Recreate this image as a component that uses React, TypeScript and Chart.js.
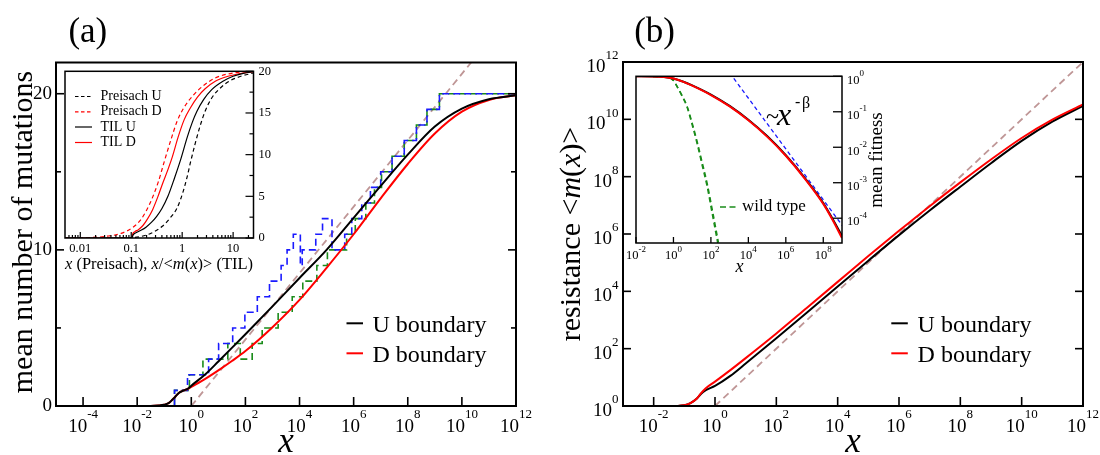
import React, { useEffect, useRef } from 'react';
import { Chart, registerables } from 'chart.js';

Chart.register(...registerables);

const W = 1100;
const H = 455;
const SERIF = '"Liberation Serif", "Times New Roman", Times, serif';

// ---------------- Panel (a): mean number of mutations (x as powers of ten) ----------------
const aCurveExp = [-2.6, -1.5, -1.2, -1.0, -0.84, -0.7, -0.6, -0.45, -0.3, -0.1, 0, 0.5, 1, 1.5, 2, 3, 4, 5, 6, 7, 8, 9, 10, 11, 12];
const aUBoundary = [0, 0, 0.03, 0.08, 0.18, 0.4, 0.58, 0.85, 0.98, 1.14, 1.3, 2.0, 2.85, 3.72, 4.6, 6.38, 8.2, 10.0, 12.05, 14.1, 16.1, 17.9, 19.05, 19.65, 19.9];
const aDBoundary = [0, 0, 0.03, 0.08, 0.18, 0.4, 0.58, 0.85, 0.98, 1.12, 1.22, 1.72, 2.28, 2.88, 3.52, 5.05, 6.8, 8.85, 11.0, 13.3, 15.5, 17.45, 18.85, 19.6, 19.9];

// single realisations (step curves)
const aUStepExp = [-1.4, -0.62, -0.14, 0.64, 1.01, 1.53, 1.98, 2.44, 2.89, 3.32, 3.54, 3.77, 4.03, 4.1, 4.6, 4.85, 5.2, 5.67, 5.93, 6.3, 6.62, 7.0, 7.42, 7.87, 8.32, 8.71, 9.17, 12];
const aUStep = [0, 1, 2, 3, 4, 5, 6, 7, 8, 9, 10, 11, 9, 10, 11, 12, 10, 11, 12, 13, 14, 15, 16, 17, 18, 19, 20, 20];
const aDStepExp = [-1.4, -0.62, -0.07, 0.43, 1.35, 1.81, 2.25, 2.62, 3.21, 3.73, 4.12, 4.64, 5.03, 5.74, 6.06, 6.45, 6.77, 7.03, 7.42, 7.87, 8.32, 8.71, 9.17, 12];
const aDStep = [0, 1, 2, 3, 4, 3, 4, 5, 6, 7, 8, 9, 10, 11, 12, 13, 14, 15, 16, 17, 18, 19, 20, 20];

// logarithmic guide
const aGuideExp = [0, 11];
const aGuide = [0, 23.4];

const aXTickExp = [-4, -2, 0, 2, 4, 6, 8, 10, 12];
const aYMajor = [0, 10, 20];
const aYMinor = [5, 15];

// Inset of panel (a): Preisach vs TIL
const insAPreisachUExp = [-2.3, -1.3, -1.0, -0.8, -0.6, -0.39, -0.25, -0.1, 0.02, 0.1, 0.16, 0.25, 0.35, 0.45, 0.58, 0.75, 0.95, 1.15, 1.4];
const insAPreisachU = [0, 0, 0.05, 0.2, 0.6, 1.4, 2.3, 3.6, 5.6, 7.4, 9.0, 11.2, 13.4, 15.2, 16.8, 18.0, 18.9, 19.4, 19.8];
const insAPreisachDExp = [-2.3, -1.8, -1.5, -1.2, -0.94, -0.8, -0.71, -0.6, -0.47, -0.35, -0.22, -0.1, 0.03, 0.2, 0.4, 0.65, 1.0, 1.4];
const insAPreisachD = [0, 0.05, 0.2, 0.55, 1.4, 2.3, 3.2, 4.6, 6.7, 9.2, 11.8, 14.0, 15.6, 17.0, 18.2, 19.2, 19.8, 20];
const insATilUExp = [-2.3, -0.99, -0.96, -0.9, -0.8, -0.71, -0.6, -0.5, -0.4, -0.28, -0.15, -0.03, 0.1, 0.2, 0.29, 0.42, 0.58, 0.8, 1.0, 1.2, 1.4];
const insATilU = [0, 0, 0.4, 0.65, 0.95, 1.3, 1.9, 2.6, 3.5, 5.0, 7.2, 9.4, 12.1, 13.9, 15.2, 16.6, 17.8, 18.8, 19.4, 19.75, 19.95];
const insATilDExp = [-2.3, -0.99, -0.97, -0.93, -0.86, -0.77, -0.68, -0.58, -0.48, -0.38, -0.28, -0.19, -0.08, 0.04, 0.16, 0.3, 0.45, 0.65, 0.9, 1.2, 1.4];
const insATilD = [0, 0, 0.5, 0.75, 1.0, 1.5, 2.3, 3.4, 4.9, 6.6, 8.2, 9.8, 12.1, 14.2, 15.6, 16.9, 17.9, 18.8, 19.4, 19.8, 19.95];

const insAXMajor = [0.01, 0.1, 1, 10];
const insAXMinor = [0.006, 0.007, 0.008, 0.009, 0.02, 0.03, 0.04, 0.05, 0.06, 0.07, 0.08, 0.09, 0.2, 0.3, 0.4, 0.5, 0.6, 0.7, 0.8, 0.9, 2, 3, 4, 5, 6, 7, 8, 9, 20];
const insAXLabels = ['0.01', '0.1', '1', '10'];
const insAYMajor = [0, 5, 10, 15, 20];
const insAYMinor = [2.5, 7.5, 12.5, 17.5];

// ---------------- Panel (b): resistance <m(x)> (both axes as powers of ten) ----------------
const bCurveExp = [-2.58, -1.5, -1.0, -0.8, -0.6, -0.46, -0.3, 0, 0.5, 1, 2, 3, 4, 5, 6, 7, 8, 9, 10, 11, 12];
const bUBoundaryExp = [0, 0, 0.03, 0.1, 0.25, 0.42, 0.55, 0.7, 1.05, 1.48, 2.36, 3.26, 4.17, 5.07, 5.96, 6.82, 7.65, 8.47, 9.25, 9.92, 10.47];
const bDBoundaryExp = [0, 0, 0.03, 0.1, 0.25, 0.44, 0.62, 0.85, 1.25, 1.67, 2.53, 3.43, 4.33, 5.23, 6.11, 6.97, 7.8, 8.6, 9.35, 9.99, 10.52];
const bGuideExp = [0, 12];

const bXTickExp = [-2, 0, 2, 4, 6, 8, 10, 12];
const bYTickExp = [0, 2, 4, 6, 8, 10, 12];

// Inset of panel (b): mean fitness
const bFitXExp = [-2, -1, -0.5, 0, 0.5, 1, 2, 3, 4, 5, 6, 7, 8, 8.5, 9];
const bFitUExp = [0, -0.004, -0.018, -0.06, -0.145, -0.255, -0.515, -0.835, -1.225, -1.685, -2.225, -2.855, -3.57, -4.02, -4.5];
const bFitDExp = [0, -0.004, -0.018, -0.063, -0.15, -0.265, -0.53, -0.85, -1.24, -1.7, -2.24, -2.875, -3.595, -4.05, -4.56];
const bPowerXExp = [3.0, 9.2];
const bPowerYExp = [0.1, -4.34];
const bWildXExp = [-2, -0.5, -0.2, 0, 0.2, 0.45, 0.72, 1.0, 1.26, 1.53, 1.8, 2.08, 2.4];
const bWildAExp = [0, -0.01, -0.04, -0.12, -0.3, -0.55, -0.86, -1.37, -1.89, -2.5, -3.11, -3.9, -4.8];
const bWildBExp = [0, -0.01, -0.04, -0.12, -0.29, -0.53, -0.83, -1.32, -1.83, -2.42, -3.02, -3.78, -4.68];

const insBXTickExp = [-2, 0, 2, 4, 6, 8];
const insBYTickExp = [0, -1, -2, -3, -4];

// ---------------- helpers ----------------
type Pt = { x: number; y: number };
const pts = (xe: number[], ys: number[]): Pt[] => xe.map((e, i) => ({ x: 10 ** e, y: ys[i] }));
const ptsLL = (xe: number[], ye: number[]): Pt[] => xe.map((e, i) => ({ x: 10 ** e, y: 10 ** ye[i] }));

function series(data: Pt[], color: string, width: number, dash: number[] = [], extra: Record<string, unknown> = {}) {
  return {
    data,
    showLine: true,
    borderColor: color,
    backgroundColor: color,
    borderWidth: width,
    borderDash: dash,
    pointRadius: 0,
    pointHoverRadius: 0,
    fill: false,
    tension: 0,
    ...extra,
  };
}
const smooth = { cubicInterpolationMode: 'monotone' };

const font = (size: number, italic = false) => `${italic ? 'italic ' : ''}${size}px ${SERIF}`;

function seg(ctx: CanvasRenderingContext2D, x1: number, y1: number, x2: number, y2: number) {
  ctx.beginPath();
  ctx.moveTo(x1, y1);
  ctx.lineTo(x2, y2);
  ctx.stroke();
}

function text(ctx: CanvasRenderingContext2D, t: string, x: number, y: number, size: number, align: CanvasTextAlign, baseline: CanvasTextBaseline = 'middle', italic = false) {
  ctx.font = font(size, italic);
  ctx.textAlign = align;
  ctx.textBaseline = baseline;
  ctx.fillText(t, x, y);
}

// "10" with a raised exponent
function pow(ctx: CanvasRenderingContext2D, x: number, y: number, exp: string, bs: number, es: number, align: 'center' | 'right' | 'left', bdy: number, edy: number) {
  ctx.font = font(bs);
  const wb = ctx.measureText('10').width;
  ctx.font = font(es);
  const we = ctx.measureText(exp).width;
  const total = wb + we;
  const x0 = align === 'center' ? x - total / 2 : align === 'right' ? x - total : x;
  ctx.textAlign = 'left';
  ctx.textBaseline = 'middle';
  ctx.font = font(bs);
  ctx.fillText('10', x0, y + bdy);
  ctx.font = font(es);
  ctx.fillText(exp, x0 + wb, y + edy);
}

type Seg = [string, boolean];
function rich(ctx: CanvasRenderingContext2D, segs: Seg[], size: number, x: number, y: number, rotate: boolean) {
  ctx.save();
  ctx.translate(x, y);
  if (rotate) ctx.rotate(-Math.PI / 2);
  ctx.textBaseline = 'alphabetic';
  ctx.textAlign = 'left';
  let total = 0;
  for (const [t, it] of segs) {
    ctx.font = font(size, it);
    total += ctx.measureText(t).width;
  }
  let cx = -total / 2;
  for (const [t, it] of segs) {
    ctx.font = font(size, it);
    ctx.fillText(t, cx, 0);
    cx += ctx.measureText(t).width;
  }
  ctx.restore();
}

type Area = { l: number; t: number; r: number; b: number };

function build(canvas: HTMLCanvasElement, area: Area, xOpt: Record<string, unknown>, yOpt: Record<string, unknown>, datasets: any[], draw: (c: Chart) => void) {
  return new Chart(canvas, {
    type: 'scatter',
    data: { datasets },
    options: {
      responsive: false,
      maintainAspectRatio: false,
      animation: false,
      devicePixelRatio: 1,
      events: [],
      layout: { padding: { left: area.l, top: area.t, right: W - area.r, bottom: H - area.b } },
      plugins: { legend: { display: false }, tooltip: { enabled: false }, title: { display: false } },
      scales: {
        x: { display: false, ...xOpt },
        y: { display: false, ...yOpt },
      },
    } as any,
    plugins: [{ id: 'decor', afterDraw: (c: Chart) => draw(c) }],
  });
}

const BLACK = '#000000';
const RED = '#ff0000';
const BLUE = '#1a1aff';
const GREEN = '#1a8c1a';
const GUIDE = '#bf9696';

// ---------------- decorations ----------------
function drawMainA(c: Chart) {
  const ctx = c.ctx;
  const a = c.chartArea;
  const xs = c.scales.x;
  const ys = c.scales.y;
  ctx.save();
  ctx.setLineDash([]);
  ctx.strokeStyle = BLACK;
  ctx.fillStyle = BLACK;
  ctx.lineWidth = 1.6;
  for (const e of aXTickExp) {
    const px = xs.getPixelForValue(10 ** e);
    seg(ctx, px, a.bottom, px, a.bottom - 9);
    pow(ctx, px, a.bottom, String(e), 19, 13, 'center', 21, 9);
  }
  for (const v of aYMajor) {
    const py = ys.getPixelForValue(v);
    seg(ctx, a.left, py, a.left + 8, py);
    seg(ctx, a.right, py, a.right - 8, py);
    text(ctx, String(v), a.left - 4, py, 19, 'right');
  }
  for (const v of aYMinor) {
    const py = ys.getPixelForValue(v);
    seg(ctx, a.left, py, a.left + 5, py);
    seg(ctx, a.right, py, a.right - 5, py);
  }
  ctx.lineWidth = 2;
  ctx.strokeRect(a.left, a.top, a.right - a.left, a.bottom - a.top);

  text(ctx, '(a)', 68.4, 42, 35, 'left', 'alphabetic');
  rich(ctx, [['mean number of mutations', false]], 30, 31.5, 232, true);
  rich(ctx, [['x', true]], 35, (a.left + a.right) / 2, 452, false);

  // legend
  ctx.lineWidth = 2;
  ctx.strokeStyle = BLACK;
  seg(ctx, 346.5, 323.3, 363, 323.3);
  ctx.strokeStyle = RED;
  seg(ctx, 346.5, 353.3, 363, 353.3);
  text(ctx, 'U boundary', 372.5, 331.5, 24, 'left', 'alphabetic');
  text(ctx, 'D boundary', 372.5, 362, 24, 'left', 'alphabetic');
  ctx.restore();
}

function drawInsetA(c: Chart) {
  const ctx = c.ctx;
  const a = c.chartArea;
  const xs = c.scales.x;
  const ys = c.scales.y;
  ctx.save();
  ctx.setLineDash([]);
  ctx.strokeStyle = BLACK;
  ctx.fillStyle = BLACK;
  ctx.lineWidth = 1.2;
  insAXMajor.forEach((v, i) => {
    const px = xs.getPixelForValue(v);
    seg(ctx, px, a.bottom, px, a.bottom - 6);
    text(ctx, insAXLabels[i], px, a.bottom + 10.5, 12.5, 'center');
  });
  for (const v of insAXMinor) {
    const px = xs.getPixelForValue(v);
    seg(ctx, px, a.bottom, px, a.bottom - 3);
  }
  for (const v of insAYMajor) {
    const py = ys.getPixelForValue(v);
    seg(ctx, a.right, py, a.right - 8, py);
    text(ctx, String(v), a.right + 5, py, 12.5, 'left');
  }
  for (const v of insAYMinor) {
    const py = ys.getPixelForValue(v);
    seg(ctx, a.right, py, a.right - 4, py);
  }
  ctx.lineWidth = 1.5;
  ctx.strokeRect(a.left, a.top, a.right - a.left, a.bottom - a.top);

  // legend
  const rows: [string, string, number[]][] = [
    ['Preisach U', BLACK, [3.5, 2.5]],
    ['Preisach D', RED, [3.5, 2.5]],
    ['TIL U', BLACK, []],
    ['TIL D', RED, []],
  ];
  const rowY = [96.5, 111.8, 127, 142.5];
  rows.forEach(([label, color, dash], i) => {
    ctx.strokeStyle = color;
    ctx.lineWidth = 1.2;
    ctx.setLineDash(dash);
    seg(ctx, 75, rowY[i], 92, rowY[i]);
    ctx.setLineDash([]);
    ctx.fillStyle = BLACK;
    text(ctx, label, 100.5, rowY[i], 14, 'left');
  });

  rich(
    ctx,
    [
      ['x', true],
      [' (Preisach), ', false],
      ['x', true],
      ['/<', false],
      ['m', true],
      ['(', false],
      ['x', true],
      [')> (TIL)', false],
    ],
    16.5,
    159,
    269,
    false,
  );
  ctx.restore();
}

function drawMainB(c: Chart) {
  const ctx = c.ctx;
  const a = c.chartArea;
  const xs = c.scales.x;
  const ys = c.scales.y;
  ctx.save();
  ctx.setLineDash([]);
  ctx.strokeStyle = BLACK;
  ctx.fillStyle = BLACK;
  ctx.lineWidth = 1.6;
  for (const e of bXTickExp) {
    const px = xs.getPixelForValue(10 ** e);
    seg(ctx, px, a.bottom, px, a.bottom - 9);
    pow(ctx, px, a.bottom, String(e), 19, 13, 'center', 21, 9);
  }
  for (const e of bYTickExp) {
    const py = ys.getPixelForValue(10 ** e);
    seg(ctx, a.left, py, a.left + 8, py);
    seg(ctx, a.right, py, a.right - 8, py);
    pow(ctx, a.left - 4.5, py, String(e), 19, 13, 'right', 5, -6);
  }
  ctx.lineWidth = 2;
  ctx.strokeRect(a.left, a.top, a.right - a.left, a.bottom - a.top);

  text(ctx, '(b)', 634.2, 42, 35, 'left', 'alphabetic');
  rich(
    ctx,
    [
      ['resistance <', false],
      ['m', true],
      ['(', false],
      ['x', true],
      [')>', false],
    ],
    30,
    580,
    234,
    true,
  );
  rich(ctx, [['x', true]], 35, (a.left + a.right) / 2, 452, false);

  ctx.lineWidth = 2;
  ctx.strokeStyle = BLACK;
  seg(ctx, 891.3, 323.3, 907.8, 323.3);
  ctx.strokeStyle = RED;
  seg(ctx, 891.3, 353.3, 907.8, 353.3);
  text(ctx, 'U boundary', 917.6, 331.5, 24, 'left', 'alphabetic');
  text(ctx, 'D boundary', 917.6, 362, 24, 'left', 'alphabetic');
  ctx.restore();
}

function drawInsetB(c: Chart) {
  const ctx = c.ctx;
  const a = c.chartArea;
  const xs = c.scales.x;
  const ys = c.scales.y;
  ctx.save();
  ctx.setLineDash([]);
  ctx.strokeStyle = BLACK;
  ctx.fillStyle = BLACK;
  ctx.lineWidth = 1.3;
  for (const e of insBXTickExp) {
    const px = xs.getPixelForValue(10 ** e);
    seg(ctx, px, a.bottom, px, a.bottom - 6);
    pow(ctx, px, a.bottom, String(e), 12.5, 9, 'center', 13, 7);
  }
  for (const e of insBYTickExp) {
    const py = ys.getPixelForValue(10 ** e);
    seg(ctx, a.right, py, a.right - 9, py);
    pow(ctx, a.right + 5, py, String(e), 12.5, 9, 'left', 4, -3);
  }
  ctx.lineWidth = 1.5;
  ctx.strokeRect(a.left, a.top, a.right - a.left, a.bottom - a.top);

  rich(ctx, [['x', true]], 18, 739.5, 272, false);
  rich(ctx, [['mean fitness', false]], 19, 882, 160, true);

  // power-law annotation
  text(ctx, '~', 766, 124, 24, 'left', 'alphabetic');
  text(ctx, 'x', 777, 124.5, 32, 'left', 'alphabetic', true);
  text(ctx, '-', 795, 107, 16, 'left', 'alphabetic');
  text(ctx, 'β', 802, 108, 16, 'left', 'alphabetic');

  // wild type legend
  ctx.strokeStyle = GREEN;
  ctx.lineWidth = 1.5;
  seg(ctx, 720, 207, 726, 207);
  seg(ctx, 729.5, 207, 735.5, 207);
  text(ctx, 'wild type', 742, 207, 17, 'left');
  ctx.restore();
}

// ---------------- component ----------------
export default function App() {
  const mainARef = useRef<HTMLCanvasElement>(null);
  const insetARef = useRef<HTMLCanvasElement>(null);
  const mainBRef = useRef<HTMLCanvasElement>(null);
  const insetBRef = useRef<HTMLCanvasElement>(null);

  useEffect(() => {
    const charts: Chart[] = [];

    charts.push(
      build(
        mainARef.current!,
        { l: 56, t: 62.5, r: 516, b: 406 },
        { type: 'logarithmic', min: 1e-5, max: 1e12 },
        { type: 'linear', min: 0, max: 22 },
        [
          series(pts(aCurveExp, aUBoundary), BLACK, 2, [], smooth),
          series(pts(aCurveExp, aDBoundary), RED, 2, [], smooth),
          series(pts(aUStepExp, aUStep), BLUE, 1.6, [7, 4], { stepped: true }),
          series(pts(aDStepExp, aDStep), GREEN, 1.6, [7, 4], { stepped: true }),
          series(pts(aGuideExp, aGuide), GUIDE, 1.8, [7, 4.5]),
        ],
        drawMainA,
      ),
    );

    charts.push(
      build(
        insetARef.current!,
        { l: 65, t: 71.3, r: 253.5, b: 238 },
        { type: 'logarithmic', min: 10 ** -2.3, max: 10 ** 1.4 },
        { type: 'linear', min: 0, max: 20 },
        [
          series(pts(insATilUExp, insATilU), BLACK, 1.2, [], smooth),
          series(pts(insATilDExp, insATilD), RED, 1.2, [], smooth),
          series(pts(insAPreisachUExp, insAPreisachU), BLACK, 1.2, [4, 3], smooth),
          series(pts(insAPreisachDExp, insAPreisachD), RED, 1.2, [4, 3], smooth),
        ],
        drawInsetA,
      ),
    );

    charts.push(
      build(
        mainBRef.current!,
        { l: 623, t: 62, r: 1083, b: 406 },
        { type: 'logarithmic', min: 1e-3, max: 1e12 },
        { type: 'logarithmic', min: 1, max: 1e12 },
        [
          series(ptsLL(bCurveExp, bDBoundaryExp), RED, 2, [], smooth),
          series(ptsLL(bCurveExp, bUBoundaryExp), BLACK, 2, [], smooth),
          series(ptsLL(bGuideExp, bGuideExp), GUIDE, 1.8, [7, 4.5]),
        ],
        drawMainB,
      ),
    );

    charts.push(
      build(
        insetBRef.current!,
        { l: 636, t: 76.3, r: 842, b: 243 },
        { type: 'logarithmic', min: 1e-2, max: 1e9 },
        { type: 'logarithmic', min: 2e-5, max: 1 },
        [
          series(ptsLL(bFitXExp, bFitDExp), RED, 2, [], smooth),
          series(ptsLL(bFitXExp, bFitUExp), BLACK, 2, [], smooth),
          series(ptsLL(bPowerXExp, bPowerYExp), BLUE, 1.3, [4, 3]),
          series(ptsLL(bWildXExp, bWildAExp), GREEN, 1.5, [5, 3.5], smooth),
          series(ptsLL(bWildXExp, bWildBExp), GREEN, 1.5, [5, 3.5], smooth),
        ],
        drawInsetB,
      ),
    );

    return () => charts.forEach((ch) => ch.destroy());
  }, []);

  const layer: React.CSSProperties = { position: 'absolute', left: 0, top: 0, width: W, height: H };
  return (
    <div style={{ position: 'absolute', left: 0, top: 0, width: W, height: H, background: '#ffffff' }}>
      <canvas ref={mainARef} width={W} height={H} style={layer} />
      <canvas ref={mainBRef} width={W} height={H} style={layer} />
      <canvas ref={insetARef} width={W} height={H} style={layer} />
      <canvas ref={insetBRef} width={W} height={H} style={layer} />
    </div>
  );
}
